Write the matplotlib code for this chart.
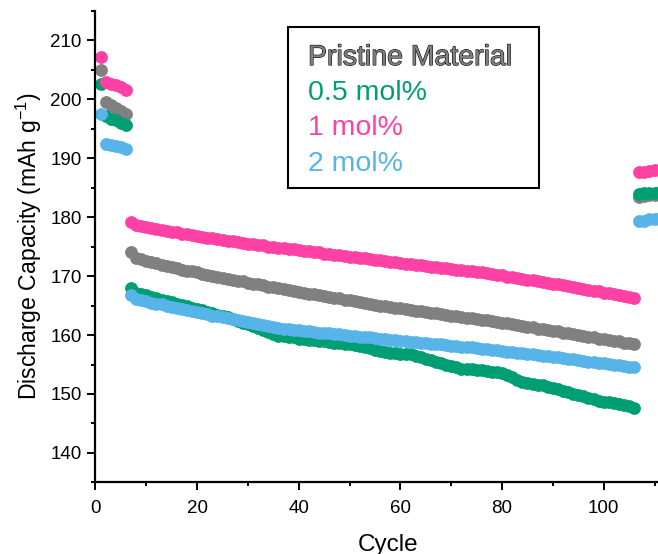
import numpy as np
import matplotlib
matplotlib.use("Agg")
import matplotlib.pyplot as plt
import matplotlib.patheffects as pe
from matplotlib.patches import Rectangle
from matplotlib.ticker import MultipleLocator

plt.rcParams['font.family'] = ['Liberation Sans', 'DejaVu Sans']
plt.rcParams['mathtext.fontset'] = 'custom'
plt.rcParams['mathtext.rm'] = 'Liberation Sans'

series_names = ['Pristine Material', '0.5 mol%', '1 mol%', '2 mol%']
series_colors = ['#808080', '#009E73', '#FF40A5', '#56B4E9']

# formation cycles 1-6
cycles_a = [1, 2, 3, 4, 5, 6]
pristine_a = [205.0, 199.5, 199.0, 198.5, 198.0, 197.5]
mol05_a = [202.5, 197.1, 196.7, 196.4, 196.0, 195.6]
mol1_a = [207.1, 202.9, 202.6, 202.3, 202.0, 201.6]
mol2_a = [197.4, 192.4, 192.2, 192.0, 191.8, 191.6]

# long cycling, cycles 7-106
cycles_b = list(range(7, 107))
pristine_b = [
    174.1, 173.1, 172.9, 172.6, 172.4, 172.2, 171.9, 171.7, 171.5, 171.3,
    171.1, 170.9, 170.8, 170.6, 170.4, 170.2, 170.0, 169.9, 169.7, 169.5,
    169.4, 169.2, 169.1, 168.9, 168.7, 168.6, 168.4, 168.2, 168.1, 167.9,
    167.8, 167.6, 167.5, 167.3, 167.2, 167.0, 166.9, 166.7, 166.6, 166.4,
    166.3, 166.2, 166.0, 165.9, 165.7, 165.6, 165.4, 165.3, 165.1, 165.0,
    164.9, 164.8, 164.6, 164.5, 164.4, 164.3, 164.1, 164.0, 163.9, 163.8,
    163.7, 163.5, 163.4, 163.3, 163.2, 163.1, 162.9, 162.8, 162.7, 162.6,
    162.5, 162.4, 162.2, 162.1, 162.0, 161.8, 161.7, 161.5, 161.4, 161.3,
    161.1, 161.0, 160.8, 160.7, 160.6, 160.4, 160.3, 160.1, 160.0, 159.9,
    159.7, 159.6, 159.4, 159.3, 159.2, 159.0, 158.9, 158.7, 158.6, 158.5,
]
mol05_b = [
    167.9, 167.2, 166.9, 166.7, 166.5, 166.3, 166.0, 165.8, 165.6, 165.3,
    165.1, 164.9, 164.6, 164.4, 164.2, 163.9, 163.7, 163.4, 163.2, 163.0,
    162.7, 162.4, 162.1, 161.8, 161.5, 161.2, 160.8, 160.5, 160.2, 159.9,
    159.8, 159.7, 159.6, 159.4, 159.3, 159.2, 159.1, 159.0, 158.9, 158.8,
    158.7, 158.6, 158.5, 158.4, 158.3, 158.2, 158.0, 157.8, 157.5, 157.3,
    157.1, 157.0, 156.9, 156.8, 156.8, 156.7, 156.5, 156.3, 156.0, 155.7,
    155.4, 155.2, 154.9, 154.7, 154.5, 154.3, 154.2, 154.2, 154.1, 154.0,
    153.9, 153.8, 153.7, 153.5, 153.2, 152.8, 152.4, 152.0, 151.8, 151.7,
    151.6, 151.5, 151.2, 151.0, 150.8, 150.5, 150.3, 150.0, 149.8, 149.6,
    149.3, 149.1, 148.8, 148.7, 148.6, 148.4, 148.3, 148.1, 147.9, 147.7,
]
mol1_b = [
    179.2, 178.7, 178.5, 178.3, 178.1, 178.0, 177.8, 177.7, 177.5, 177.4,
    177.2, 177.1, 176.9, 176.8, 176.7, 176.5, 176.4, 176.3, 176.1, 176.0,
    175.9, 175.8, 175.6, 175.5, 175.4, 175.3, 175.2, 175.0, 174.9, 174.8,
    174.7, 174.6, 174.5, 174.4, 174.3, 174.2, 174.1, 174.0, 173.8, 173.7,
    173.6, 173.5, 173.4, 173.3, 173.2, 173.1, 173.0, 172.9, 172.8, 172.7,
    172.6, 172.4, 172.3, 172.2, 172.1, 172.0, 171.9, 171.8, 171.7, 171.6,
    171.5, 171.4, 171.3, 171.2, 171.1, 171.0, 170.9, 170.8, 170.7, 170.6,
    170.5, 170.3, 170.2, 170.1, 169.9, 169.8, 169.7, 169.5, 169.4, 169.3,
    169.1, 169.0, 168.8, 168.7, 168.6, 168.4, 168.3, 168.1, 168.0, 167.8,
    167.7, 167.5, 167.4, 167.2, 167.1, 166.9, 166.8, 166.6, 166.5, 166.3,
]
mol2_b = [
    166.8, 166.1, 165.9, 165.7, 165.5, 165.3, 165.2, 165.0, 164.8, 164.6,
    164.4, 164.3, 164.1, 163.9, 163.7, 163.5, 163.3, 163.2, 163.0, 162.8,
    162.7, 162.5, 162.4, 162.2, 162.0, 161.9, 161.7, 161.5, 161.4, 161.2,
    161.1, 161.0, 160.9, 160.8, 160.7, 160.6, 160.5, 160.4, 160.3, 160.3,
    160.2, 160.1, 160.0, 159.9, 159.8, 159.7, 159.7, 159.6, 159.5, 159.4,
    159.3, 159.2, 159.1, 159.0, 158.9, 158.8, 158.8, 158.7, 158.6, 158.5,
    158.4, 158.4, 158.3, 158.2, 158.1, 158.0, 158.0, 157.9, 157.8, 157.7,
    157.6, 157.5, 157.4, 157.3, 157.2, 157.1, 157.0, 156.9, 156.8, 156.7,
    156.6, 156.5, 156.4, 156.3, 156.2, 156.1, 156.0, 155.9, 155.7, 155.6,
    155.5, 155.4, 155.3, 155.2, 155.1, 155.0, 154.9, 154.8, 154.6, 154.5,
]

# recovery cycles 107-111
cycles_c = [107, 108, 109, 110, 111]
pristine_c = [183.4, 183.6, 183.7, 183.8, 183.9]
mol05_c = [183.9, 184.0, 184.0, 184.1, 184.2]
mol1_c = [187.6, 187.7, 187.8, 187.9, 188.0]
mol2_c = [179.3, 179.4, 179.6, 179.7, 179.8]

all_series = [
    (pristine_a, pristine_b, pristine_c),
    (mol05_a, mol05_b, mol05_c),
    (mol1_a, mol1_b, mol1_c),
    (mol2_a, mol2_b, mol2_c),
]

fig = plt.figure(figsize=(6.58, 5.54), dpi=100)
ax = fig.add_axes([0.1451, 0.1291, 0.8883, 0.8518])

for (ya, yb, yc), col in zip(all_series, series_colors):
    x = cycles_a + cycles_b + cycles_c
    y = list(ya) + list(yb) + list(yc)
    ax.scatter(x, y, s=85, color=col, linewidths=0, clip_on=False)

ax.set_xlim(0, 115)
ax.set_ylim(135, 215)
ax.xaxis.set_major_locator(MultipleLocator(20))
ax.xaxis.set_minor_locator(MultipleLocator(10))
ax.yaxis.set_major_locator(MultipleLocator(10))
ax.yaxis.set_minor_locator(MultipleLocator(5))

ax.spines['top'].set_visible(False)
ax.spines['right'].set_visible(False)
for s in ['left', 'bottom']:
    ax.spines[s].set_linewidth(1.6)
ax.tick_params(which='major', direction='out', length=6, width=1.4, labelsize=13.5)
ax.tick_params(which='minor', direction='out', length=3, width=1.4)
ax.tick_params(axis='y', pad=4)
ax.tick_params(axis='x', pad=6.5)

ax.set_xlabel('Cycle', fontsize=17.5, labelpad=12)
ax.set_ylabel(r'Discharge Capacity (mAh g$\mathregular{^{-1}}$)', fontsize=16.6)
ax.yaxis.set_label_coords(-0.088, 0.5)

# text-only legend in a box
ax.add_patch(Rectangle((0.3293, 0.6241), 0.4295, 0.3411, transform=ax.transAxes,
                       facecolor='white', edgecolor='black', linewidth=1.5, zorder=5))
text_y = [0.8847, 0.8105, 0.7364, 0.6601]
for name, col, ty in zip(series_names, series_colors, text_y):
    t = ax.text(0.3636, ty, name, transform=ax.transAxes, color=col, fontsize=20.5,
                va='baseline', ha='left', zorder=6)
    if name == 'Pristine Material':
        t.set_path_effects([pe.withStroke(linewidth=0.8, foreground='black')])

fig.savefig('out.png', dpi=100)
